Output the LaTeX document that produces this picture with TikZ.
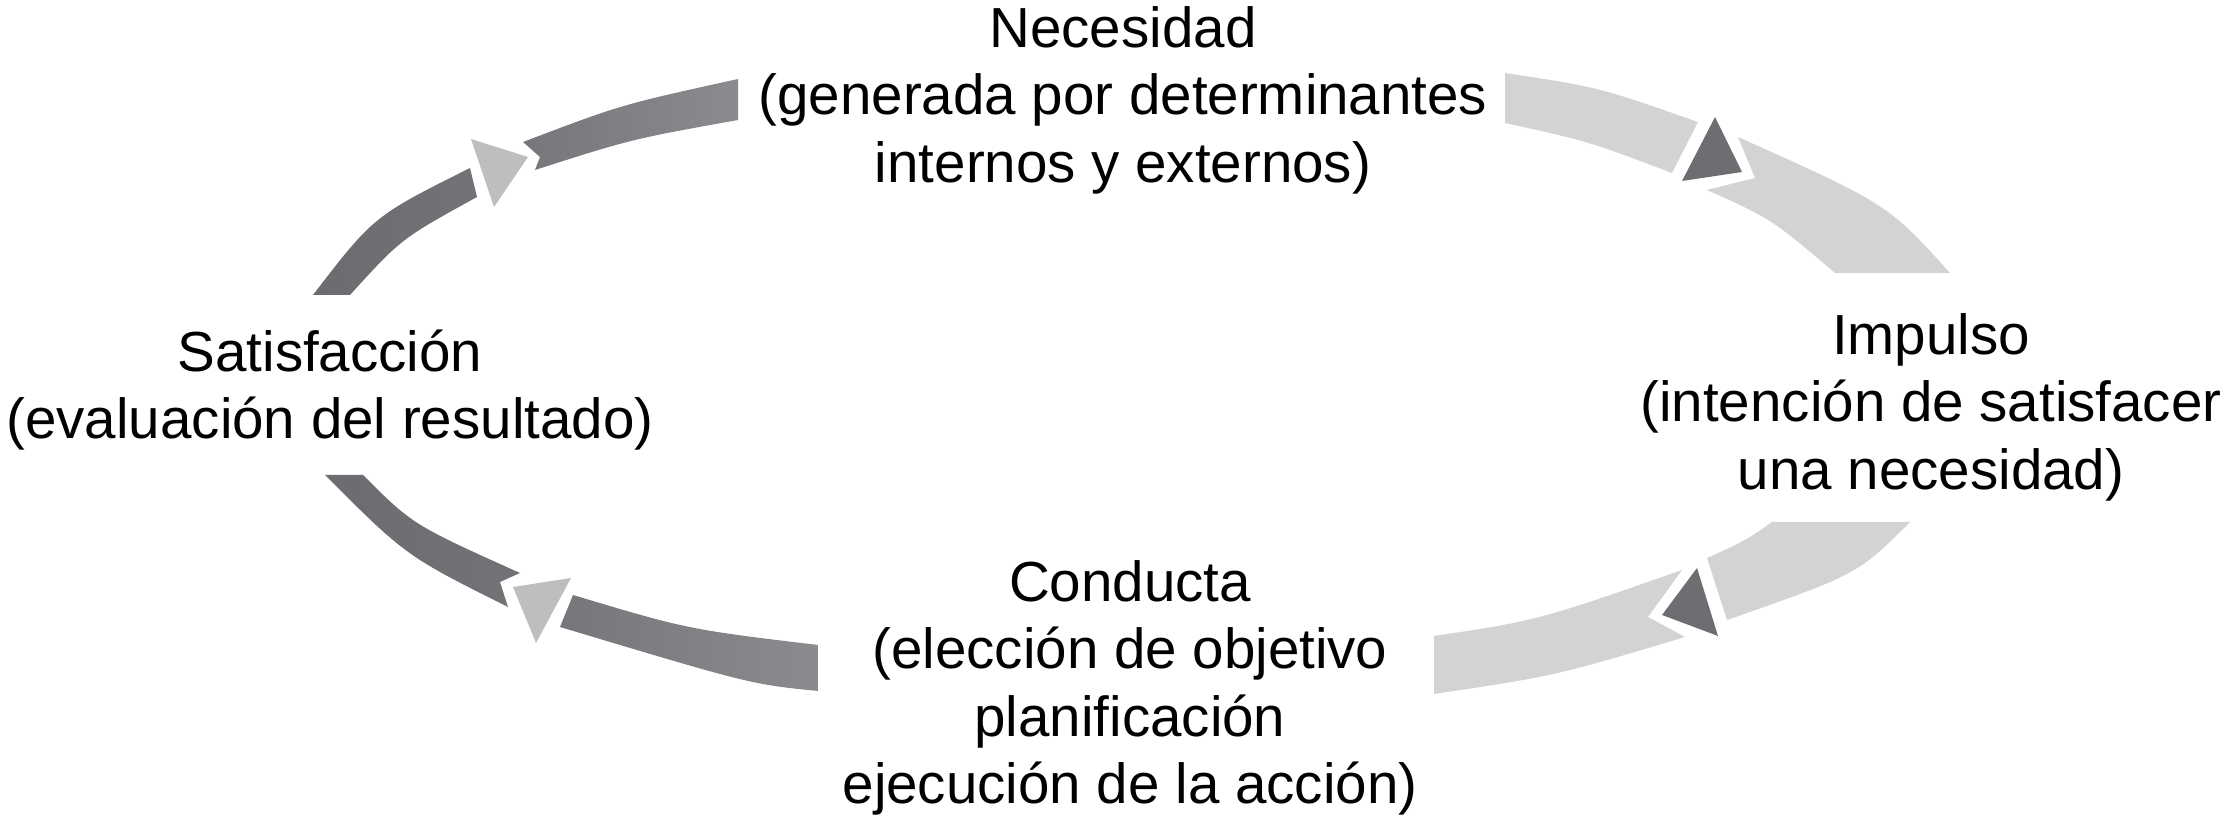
\documentclass[tikz,border=0pt]{standalone}
\usepackage{fontspec}
\setmainfont{Liberation Sans}
\definecolor{lightband}{HTML}{D1D3D4}
\definecolor{darktri}{HTML}{6D6E71}
\definecolor{lighttri}{HTML}{BCBEC0}
\definecolor{dkA}{HTML}{6B6C6F}
\definecolor{dkB}{HTML}{727376}
\definecolor{dkC}{HTML}{76777A}
\definecolor{dkD}{HTML}{8A8B8E}
\begin{document}
\begin{tikzpicture}[x=0.5pt,y=-0.5pt,
  lab/.style={align=center,inner sep=0pt,text=black,
    font=\fontsize{28.25pt}{33.75pt}\selectfont},
  lightpiece/.style={fill=lightband},
  darktriangle/.style={fill=darktri},
  lighttriangle/.style={fill=lighttri}]
\useasboundingbox (0,0) rectangle (2222,817);

% text nodes
\node[lab] (nec) at (1123,100) {Necesidad\\(generada por determinantes\\internos y externos)};
\node[lab] (imp) at (1931,407) {Impulso\\(intención de satisfacer\\una necesidad)};
\node[lab] (con) at (1130,688) {Conducta\\(elección de objetivo\\planificación\\ejecución de la acción)};
\node[lab] (sat) at (330,390) {Satisfacción\\(evaluación del resultado)};

% top-left band (dark)
\shade[left color=dkA,right color=dkB]
  (313,295) .. controls (373.6,216.2) .. (470,168)
  -- (477,197) .. controls (401.2,238.7) .. (350,295) -- cycle;
\shade[left color=dkC,right color=dkD]
  (523,142) .. controls (621.1,104.7) .. (738,79)
  -- (738,120) .. controls (631.1,139.2) .. (535,170) -- (540,157) -- cycle;
\fill[lighttriangle] (471,139) -- (528,157) -- (494,207) -- cycle;

% top-right band (light)
\fill[lightpiece]
  (1505,73) .. controls (1598,87) .. (1698,122)
  -- (1672,173) .. controls (1589.1,141.5) .. (1505,123) -- cycle;
\fill[lightpiece]
  (1738,137) .. controls (1887.5,204) .. (1950,273)
  -- (1835,273) .. controls (1771.5,219) .. (1707,190) -- (1755,178) -- cycle;
\fill[darktriangle] (1715,117) -- (1742,172) -- (1682,181) -- cycle;

% bottom-right band (light)
\fill[lightpiece]
  (1910,522) .. controls (1857.8,574.2) .. (1727,620)
  -- (1707,558) .. controls (1745,540.9) .. (1772,522) -- cycle;
\fill[lightpiece]
  (1682,570) .. controls (1538,620.4) .. (1434,636)
  -- (1434,694) .. controls (1556,675.7) .. (1685,637) -- (1648,617) -- cycle;
\fill[darktriangle] (1697,568) -- (1718,636) -- (1662,615) -- cycle;

% bottom-left band (dark)
\shade[left color=dkC,right color=dkD]
  (818,645) .. controls (687.4,629.3) .. (573,595)
  -- (560,627) .. controls (751,684.3) .. (818,691) -- cycle;
\shade[left color=dkA,right color=dkB]
  (363,475) .. controls (412.7,524.7) .. (520,573)
  -- (500,582) -- (508,607) .. controls (406,556) .. (325,475) -- cycle;
\fill[lighttriangle] (513,587) -- (571,578) -- (536,643) -- cycle;
\end{tikzpicture}
\end{document}
